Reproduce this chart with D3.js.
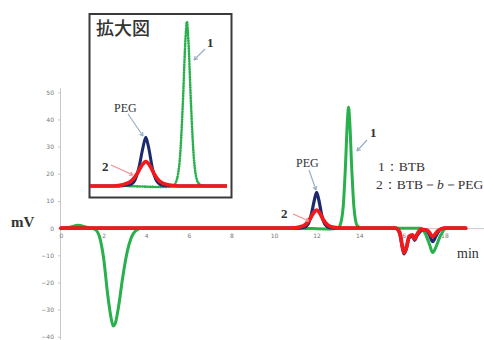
<!DOCTYPE html>
<html>
<head>
<meta charset="utf-8">
<script src="https://cdn.jsdelivr.net/npm/d3@7/dist/d3.min.js"></script>
<style>
  body { margin: 0; background: #fff; }
  svg text { font-family: "Liberation Serif", "DejaVu Serif", serif; fill: #333; }
  .tick text { font-family: "DejaVu Sans", sans-serif; fill: #777; }
</style>
</head>
<body>
<div id="viz"></div>
<script>
// chromatogram values (min, mV)
const greenT = [0, 0.4, 0.8, 1.2, 1.6, 1.8, 2.0, 2.2, 2.35, 2.45, 2.55, 2.7, 2.9, 3.1, 3.3, 3.5, 3.8, 6, 9, 11, 12.6, 13.0, 13.1, 13.25, 13.35, 13.45, 13.5, 13.55, 13.65, 13.75, 13.9, 14.1, 16, 16.9, 17.1, 17.3, 17.45, 17.6, 17.8, 18.1, 19];
const greenV = [0, 0.3, 1.1, 0.3, -0.5, -3, -11, -25, -33, -36, -35, -29, -18, -9, -3.5, -1, 0, 0, 0, 0, -0.3, 0, 1, 8, 22, 40, 44.5, 40, 22, 8, 1, 0, 0, 0, -2, -6, -9, -7, -3, 0, 0];

const blueT = [0, 11, 11.4, 11.6, 11.75, 11.9, 12.0, 12.1, 12.25, 12.4, 12.6, 13, 15.7, 15.9, 16.0, 16.1, 16.2, 16.35, 16.5, 16.6, 16.7, 16.9, 17.1, 17.3, 17.45, 17.6, 17.8, 18, 19];
const blueV = [0, 0, 0.3, 1.5, 5, 10.5, 13.2, 10.5, 4.5, 1.3, 0.2, 0, 0, -2, -6, -9.5, -8, -3.5, -3, -4.5, -3, -1, -0.5, -2.5, -5, -3, -0.5, 0, 0];

const redT = [0, 10.8, 11.2, 11.5, 11.7, 11.85, 12.0, 12.15, 12.3, 12.5, 12.8, 13.2, 15.7, 15.9, 16.0, 16.1, 16.2, 16.35, 16.5, 16.6, 16.7, 16.9, 17.2, 17.45, 17.7, 18, 19];
const redV = [0, 0, 0.4, 1.5, 3.5, 5.5, 6.6, 5.5, 3.3, 1.3, 0.3, 0, 0, -1.5, -5.5, -9, -7.5, -3, -2.5, -4, -2.5, -0.5, -0.8, -3, -1, 0, 0];

const xTicks = [0, 2, 4, 6, 8, 10, 12, 14, 16, 18];
const yTicks = [50, 40, 30, 20, 10, 0, -10, -20, -30, -40];
const legendLines = ["1：BTB", "2：BTB－", "b", "－PEG"];

const W = 484, H = 340;
const svg = d3.select("#viz").append("svg")
  .attr("width", W).attr("height", H);

const x = d3.scaleLinear().domain([0, 20]).range([61, 487]);
const y = d3.scaleLinear().domain([50, -40]).range([92.3, 336.8]);

// y axis
const yAxis = svg.append("g")
  .attr("transform", "translate(61,0)")
  .call(d3.axisLeft(y).tickValues(yTicks).tickSize(3).tickPadding(4));
yAxis.select(".domain").attr("stroke", "#c8c8c8").attr("d", "M-0.5," + (y(50) - 4) + "V" + (y(-40) + 3));
yAxis.selectAll(".tick line").attr("stroke", "#c8c8c8");
yAxis.selectAll(".tick text").attr("font-size", 6);

// x axis along 0
const xAxis = svg.append("g")
  .attr("transform", "translate(0," + y(0) + ")")
  .call(d3.axisBottom(x).tickValues(xTicks).tickSize(2).tickPadding(4));
xAxis.select(".domain").attr("stroke", "#c8c8c8");
xAxis.selectAll(".tick line").attr("stroke", "#c8c8c8");
xAxis.selectAll(".tick text").attr("font-size", 6);

const zip = (t, v) => t.map((d, i) => [d, v[i]]);
const series = [
  { name: "green", pts: zip(greenT, greenV), color: "#27b04b", w: 3 },
  { name: "blue", pts: zip(blueT, blueV), color: "#1c2a6b", w: 3.2 },
  { name: "red", pts: zip(redT, redV), color: "#f2191c", w: 3.8 }
];

const line = d3.line()
  .x(d => x(d[0]))
  .y(d => y(d[1]))
  .curve(d3.curveMonotoneX);

svg.append("g").selectAll("path")
  .data(series)
  .enter().append("path")
  .attr("d", d => line(d.pts))
  .attr("fill", "none")
  .attr("stroke", d => d.color)
  .attr("stroke-width", d => d.w)
  .attr("stroke-linejoin", "round")
  .attr("stroke-linecap", "round");

// inset (enlarged view)
const ix = d3.scaleLinear().domain([10, 15]).range([91, 228]);
const iy = d3.scaleLinear().domain([-3, 46.6]).range([197, 14]);

svg.append("defs").append("clipPath").attr("id", "insetClip")
  .append("rect").attr("x", 90).attr("y", 14).attr("width", 137).attr("height", 183);

svg.append("rect")
  .attr("x", 89.5).attr("y", 14).attr("width", 142).attr("height", 183.5)
  .attr("fill", "#fff").attr("stroke", "#3a3a3a").attr("stroke-width", 2);

const iline = d3.line()
  .x(d => ix(d[0]))
  .y(d => iy(d[1]))
  .curve(d3.curveMonotoneX);

svg.append("g").attr("clip-path", "url(#insetClip)")
  .selectAll("path")
  .data(series)
  .enter().append("path")
  .attr("d", d => iline(d.pts))
  .attr("fill", "none")
  .attr("stroke", d => d.color)
  .attr("stroke-width", d => d.name === "red" ? 3.6 : (d.name === "green" ? 2.6 : 3))
  .attr("stroke-dasharray", d => d.name === "green" ? "0.4,2.2" : null)
  .attr("stroke-linecap", d => d.name === "green" ? "round" : "butt");

svg.append("text")
  .attr("x", 96).attr("y", 35)
  .attr("font-size", 18)
  .style("font-family", "'Noto Sans CJK JP', sans-serif")
  .style("font-weight", 500)
  .text("拡大図");

// arrow labels
const arrowBlue = "#98afc6", arrowPink = "#ee8e92";
const labels = [
  { text: "1", x: 207, y: 47, ax: [205, 49, 194, 60], c: arrowBlue, bold: true },
  { text: "PEG", x: 114, y: 112, ax: [128, 114, 143, 136], c: arrowBlue, bold: false },
  { text: "2", x: 102, y: 171, ax: [111, 165, 133, 175], c: arrowPink, bold: true },
  { text: "1", x: 370, y: 137, ax: [367, 140, 357, 151], c: arrowBlue, bold: true },
  { text: "PEG", x: 296, y: 167, ax: [309, 170, 316, 190], c: arrowBlue, bold: false },
  { text: "2", x: 281, y: 218, ax: [293, 214, 309, 221], c: arrowPink, bold: true }
];

labels.forEach(l => {
  const [x1, y1, x2, y2] = l.ax;
  const a = Math.atan2(y2 - y1, x2 - x1);
  svg.append("line")
    .attr("x1", x1).attr("y1", y1).attr("x2", x2).attr("y2", y2)
    .attr("stroke", l.c).attr("stroke-width", 1.2);
  const hl = 4;
  svg.append("path")
    .attr("d", "M" + x2 + "," + y2 +
      "L" + (x2 - hl * Math.cos(a - 0.5)) + "," + (y2 - hl * Math.sin(a - 0.5)) +
      "M" + x2 + "," + y2 +
      "L" + (x2 - hl * Math.cos(a + 0.5)) + "," + (y2 - hl * Math.sin(a + 0.5)))
    .attr("stroke", l.c).attr("stroke-width", 1.2).attr("fill", "none");
  svg.append("text")
    .attr("x", l.x).attr("y", l.y)
    .attr("font-size", l.bold ? 13 : 12)
    .style("font-weight", l.bold ? "bold" : "normal")
    .text(l.text);
});

// legend
svg.append("text").attr("x", 378).attr("y", 171).attr("font-size", 13.5).text(legendLines[0]);
const leg2 = svg.append("text").attr("x", 376).attr("y", 189).attr("font-size", 13.5);
leg2.append("tspan").text(legendLines[1]);
leg2.append("tspan").style("font-style", "italic").text(legendLines[2]);
leg2.append("tspan").text(legendLines[3]);

svg.append("text").attr("x", 11).attr("y", 227).attr("font-size", 15).style("font-weight", "bold").attr("fill", "#444").text("mV");
svg.append("text").attr("x", 457).attr("y", 258).attr("font-size", 14).text("min");
</script>
</body>
</html>
